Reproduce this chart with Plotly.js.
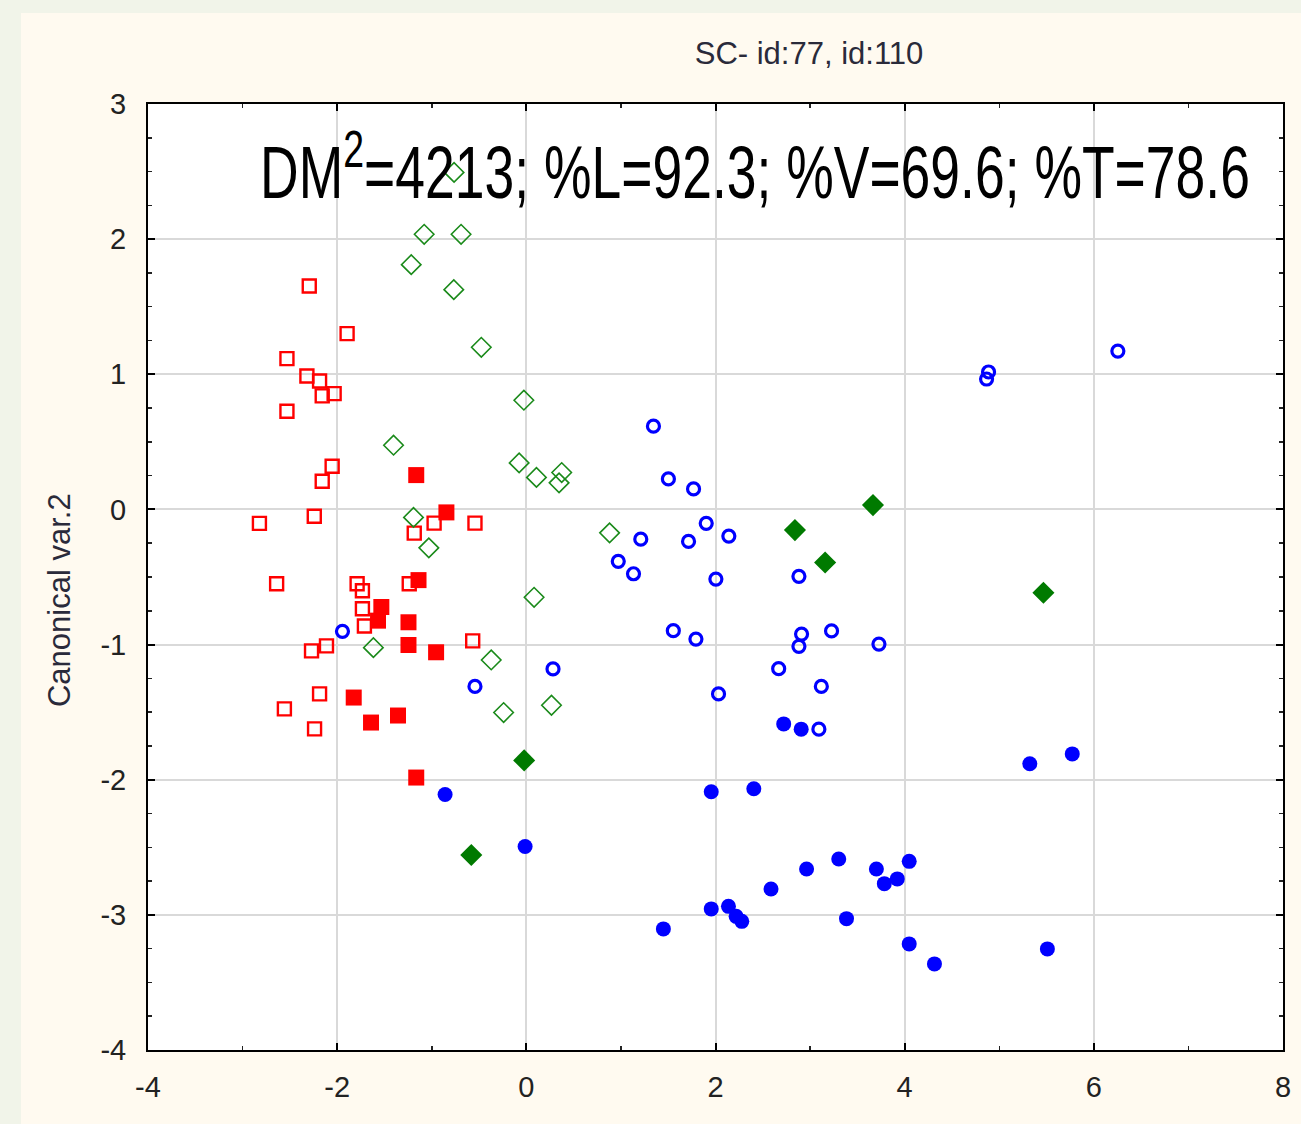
<!DOCTYPE html>
<html>
<head>
<meta charset="utf-8">
<script src="https://cdn.plot.ly/plotly-3.0.1.min.js"></script>
<style>
  html, body { margin: 0; padding: 0; background: #f1f4e9; width: 1301px; height: 1124px; overflow: hidden; }
  #chart { position: absolute; left: 21px; top: 13px; width: 1280px; height: 1111px; }
</style>
</head>
<body>
<div id="chart"></div>
<script>
// Group 1 (red) – open squares
const redOpenX = [-2.295,-1.895,-2.531,-2.320,-2.186,-2.158,-2.032,-2.531,-2.053,-2.158,-2.242,-2.822,-1.185,-0.975,-0.543,-2.640,-1.789,-1.733,-1.733,-1.712,-1.238,-2.113,-2.271,-0.567,-2.186,-2.558,-2.239];
const redOpenY = [1.653,1.301,1.116,0.987,0.950,0.840,0.857,0.727,0.320,0.209,-0.050,-0.103,-0.175,-0.101,-0.101,-0.550,-0.550,-0.602,-0.735,-0.863,-0.550,-1.010,-1.047,-0.973,-1.365,-1.476,-1.624];
// Group 1 (red) – filled squares
const redFillX = [-1.164,-0.845,-1.140,-1.533,-1.568,-1.246,-1.246,-0.954,-1.825,-1.642,-1.357,-1.164];
const redFillY = [0.254,-0.022,-0.523,-0.722,-0.823,-0.835,-1.003,-1.057,-1.392,-1.577,-1.525,-1.984];
// Group 2 (green) – open diamonds
const greenOpenX = [-0.764,-1.080,-0.690,-1.217,-0.767,-0.476,-0.026,-1.404,-0.076,0.107,0.374,0.346,-1.193,-1.031,0.880,0.082,-1.617,-0.371,-0.240,0.266];
const greenOpenY = [2.494,2.036,2.036,1.811,1.626,1.200,0.808,0.475,0.344,0.237,0.273,0.197,-0.059,-0.284,-0.173,-0.650,-1.023,-1.114,-1.503,-1.449];
// Group 2 (green) – filled diamonds
const greenFillX = [-0.023,-0.582,3.665,2.840,3.159,5.467];
const greenFillY = [-1.857,-2.557,0.032,-0.153,-0.393,-0.616];
// Group 3 (blue) – open circles
const blueOpenX = [1.344,1.502,1.768,1.902,2.141,1.210,1.715,0.972,1.133,2.004,2.882,1.554,1.793,2.910,3.227,2.882,3.728,0.282,2.668,3.119,2.032,3.093,-1.944,-0.543,4.887,4.866,6.254];
const blueOpenY = [0.616,0.226,0.152,-0.103,-0.197,-0.220,-0.237,-0.384,-0.476,-0.515,-0.495,-0.897,-0.959,-0.922,-0.899,-1.013,-0.996,-1.180,-1.178,-1.310,-1.365,-1.626,-0.902,-1.310,1.017,0.965,1.172];
// Group 3 (blue) – filled circles
const blueFillX = [2.721,2.906,1.955,2.405,3.303,2.963,3.701,4.048,3.785,3.922,2.587,1.955,2.137,2.218,2.278,3.385,1.449,4.048,4.315,-0.859,-0.013,5.323,5.772,5.509];
const blueFillY = [-1.587,-1.626,-2.089,-2.067,-2.587,-2.661,-2.661,-2.604,-2.769,-2.734,-2.809,-2.956,-2.937,-3.011,-3.048,-3.028,-3.104,-3.215,-3.363,-2.109,-2.494,-1.882,-1.809,-3.252];

const xTicks = [-4,-2,0,2,4,6,8];
const yTicks = [-4,-3,-2,-1,0,1,2,3];
const chartTitle = 'SC- id:77, id:110';
const yTitle = 'Canonical var.2';
const statsText = 'DM<sup>2</sup>=4213; %L=92.3; %V=69.6; %T=78.6';

const traces = [
  {x: redOpenX, y: redOpenY, mode: 'markers', type: 'scatter',
   marker: {symbol: 'square-open', size: 13, color: '#ff0000', line: {width: 2.4, color: '#ff0000'}}},
  {x: greenOpenX, y: greenOpenY, mode: 'markers', type: 'scatter',
   marker: {symbol: 'diamond-open', size: 15, color: '#1a8a1a', line: {width: 1.6, color: '#1a8a1a'}}},
  {x: blueOpenX, y: blueOpenY, mode: 'markers', type: 'scatter',
   marker: {symbol: 'circle-open', size: 12, color: '#0000ff', line: {width: 3.2, color: '#0000ff'}}},
  {x: redFillX, y: redFillY, mode: 'markers', type: 'scatter',
   marker: {symbol: 'square', size: 16, color: '#ff0000'}},
  {x: greenFillX, y: greenFillY, mode: 'markers', type: 'scatter',
   marker: {symbol: 'diamond', size: 17, color: '#007a00'}},
  {x: blueFillX, y: blueFillY, mode: 'markers', type: 'scatter',
   marker: {symbol: 'circle', size: 15, color: '#0000ff'}}
];

const axisFont = {family: 'Liberation Sans, Arial, sans-serif', size: 29, color: '#222'};

const layout = {
  width: 1280, height: 1111,
  paper_bgcolor: '#fffaf0',
  plot_bgcolor: '#ffffff',
  showlegend: false,
  margin: {l: 127, r: 18, t: 91, b: 74},
  title: {text: chartTitle, x: 0.5824, xanchor: 'center', xref: 'paper', y: 0.964, yanchor: 'middle', yref: 'container',
          font: {family: 'Liberation Sans, Arial, sans-serif', size: 31, color: '#2a2a3a'}},
  xaxis: {
    range: [-4, 8], tickvals: xTicks, ticktext: xTicks.map(String),
    showgrid: true, gridcolor: '#d9d9d9', gridwidth: 2, zeroline: false,
    showline: true, linecolor: '#000', linewidth: 2, mirror: 'ticks',
    ticks: 'inside', ticklen: 7, tickwidth: 2, tickcolor: '#000',
    minor: {dtick: 1, ticks: 'inside', ticklen: 4, tickwidth: 1.5, tickcolor: '#222', showgrid: false},
    tickfont: axisFont, ticklabelstandoff: 10
  },
  yaxis: {
    range: [-4, 3], tickvals: yTicks, ticktext: yTicks.map(String),
    showgrid: true, gridcolor: '#d9d9d9', gridwidth: 2, zeroline: false,
    showline: true, linecolor: '#000', linewidth: 2, mirror: 'ticks',
    ticks: 'inside', ticklen: 7, tickwidth: 2, tickcolor: '#000',
    minor: {dtick: 0.25, ticks: 'inside', ticklen: 4, tickwidth: 1.5, tickcolor: '#222', showgrid: false},
    tickfont: axisFont, ticklabelstandoff: 14
  },
  annotations: [
    {text: statsText, xref: 'paper', yref: 'paper', x: 0.535, y: 0.933, xanchor: 'center', yanchor: 'middle',
     showarrow: false, font: {family: 'Liberation Sans, Arial, sans-serif', size: 74, color: '#000'}},
    {text: yTitle, xref: 'paper', yref: 'paper', x: -0.0775, y: 0.4757, xanchor: 'center', yanchor: 'middle',
     textangle: -90, showarrow: false, font: {family: 'Liberation Sans, Arial, sans-serif', size: 31, color: '#2a2a3a'}}
  ]
};

Plotly.newPlot('chart', traces, layout, {displayModeBar: false, staticPlot: true}).then(function (gd) {
  // condense the large statistics line horizontally (reference uses a condensed face)
  const t = gd.querySelector('.annotation[data-index="0"] text.annotation-text');
  if (t) {
    const bb = t.getBBox();
    const cx = bb.x + bb.width / 2;
    const sx = 990 / bb.width;
    t.setAttribute('transform', 'translate(' + cx + ',0) scale(' + sx + ',1) translate(' + (-cx) + ',0)');
  }
});
</script>
</body>
</html>
